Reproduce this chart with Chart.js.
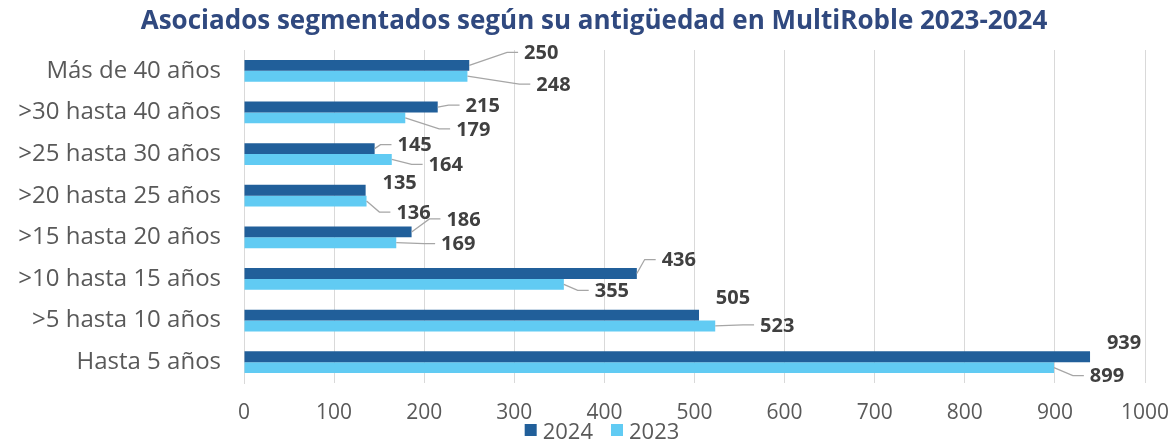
<!DOCTYPE html>
<html>
<head>
<meta charset="utf-8">
<script src="https://cdn.jsdelivr.net/npm/chart.js@4/dist/chart.umd.min.js"></script>
<style>
  html, body { margin: 0; padding: 0; background: #ffffff; }
  #wrap { width: 1175px; height: 440px; position: relative; }
</style>
</head>
<body>
<div id="wrap"><canvas id="chart_bar"></canvas></div>
<script>
// categories, top to bottom
const categories = ['Más de 40 años', '>30 hasta 40 años', '>25 hasta 30 años', '>20 hasta 25 años',
  '>15 hasta 20 años', '>10 hasta 15 años', '>5 hasta 10 años', 'Hasta 5 años'];
const values2024 = [250, 215, 145, 135, 186, 436, 505, 939];
const values2023 = [248, 179, 164, 136, 169, 355, 523, 899];
const seriesNames = ['2024', '2023'];
const xMin = 0, xMax = 1000, xStep = 100;
const chartTitle = 'Asociados segmentados según su antigüedad en MultiRoble 2023-2024';

// where each data label sits relative to the end of its bar (px), and if it gets a leader line
const labelOffsets = [
  [[72, -13], [45, -2], [40, -4], [34, -8], [52, -13], [42, -14], [34, -18], [34, -14]],
  [[86, 8], [68, 11], [54, 5], [47, 11], [62, 1], [48, 6], [62, -1], [53, 8]]
];
const leaderLines = [
  [true, true, true, false, true, true, false, false],
  [true, true, true, true, true, true, true, true]
];

const dataLabels = {
  id: 'dataLabels',
  afterDatasetsDraw(chart) {
    const ctx = chart.ctx;
    ctx.save();
    ctx.font = '700 20px "Open Sans"';
    ctx.fillStyle = '#404040';
    ctx.textBaseline = 'middle';
    ctx.textAlign = 'left';
    chart.data.datasets.forEach((ds, d) => {
      chart.getDatasetMeta(d).data.forEach((bar, i) => {
        const txt = String(ds.data[i]);
        const w = ctx.measureText(txt).width;
        const cx = bar.x + labelOffsets[d][i][0];
        const cy = bar.y + labelOffsets[d][i][1];
        const left = cx - w / 2;
        if (leaderLines[d][i]) {
          ctx.strokeStyle = '#a6a6a6';
          ctx.lineWidth = 1.3;
          ctx.beginPath();
          ctx.moveTo(bar.x, bar.y);
          ctx.lineTo(Math.max(bar.x + 4, left - 17), cy);
          ctx.lineTo(left - 6, cy);
          ctx.stroke();
        }
        ctx.fillText(txt, left, cy + 1);
      });
    });
    ctx.restore();
  }
};

// title sits a bit right of the canvas centre in the original
const topTitle = {
  id: 'topTitle',
  afterDraw(chart) {
    const ctx = chart.ctx;
    ctx.save();
    ctx.font = '700 26px "Open Sans"';
    ctx.fillStyle = '#30497F';
    ctx.textAlign = 'center';
    ctx.textBaseline = 'middle';
    ctx.fillText(chartTitle, 594, 22);
    ctx.restore();
  }
};

// legend drawn over the bottom edge, like the original
const bottomLegend = {
  id: 'bottomLegend',
  afterDraw(chart) {
    const ctx = chart.ctx;
    ctx.save();
    ctx.font = '22px "Open Sans"';
    ctx.textBaseline = 'middle';
    const box = 12, gap = 6, between = 18;
    const items = chart.data.datasets.map(ds => ({ text: ds.label, color: ds.backgroundColor, w: ctx.measureText(ds.label).width }));
    let total = 0;
    items.forEach((it, k) => { total += box + gap + it.w + (k ? between : 0); });
    let x = 602 - total / 2;
    const y = 433;
    items.forEach(it => {
      ctx.fillStyle = it.color;
      ctx.fillRect(x, y - box / 2 - 3, box, box);
      x += box + gap;
      ctx.fillStyle = '#595959';
      ctx.fillText(it.text, x, y);
      x += it.w + between;
    });
    ctx.restore();
  }
};

new Chart(document.getElementById('chart_bar'), {
  type: 'bar',
  data: {
    labels: categories,
    datasets: [
      { label: seriesNames[0], data: values2024, backgroundColor: '#215F9A' },
      { label: seriesNames[1], data: values2023, backgroundColor: '#61CBF3' }
    ]
  },
  options: {
    indexAxis: 'y',
    responsive: true,
    maintainAspectRatio: false,
    animation: false,
    datasets: { bar: { categoryPercentage: 0.52, barPercentage: 1 } },
    layout: { padding: { left: 0, right: 30, top: 50, bottom: 0 } },
    scales: {
      x: {
        min: xMin,
        max: xMax,
        ticks: {
          stepSize: xStep, color: '#595959', font: { family: '"Open Sans"', size: 21 }, padding: 17,
          callback: v => String(v)
        },
        grid: { color: '#d9d9d9', drawTicks: false },
        border: { display: false },
        afterFit(scale) { scale.height = 57; scale.paddingLeft = 0; scale.paddingRight = 0; }
      },
      y: {
        ticks: { color: '#595959', font: { family: '"Open Sans"', size: 24 }, padding: 23 },
        grid: { display: false, drawTicks: false },
        border: { color: '#d9d9d9' },
        afterFit(scale) { scale.width = 244; }
      }
    },
    plugins: {
      legend: { display: false },
      tooltip: { enabled: false },
      title: { display: false }
    }
  },
  plugins: [dataLabels, topTitle, bottomLegend]
});
</script>
</body>
</html>
